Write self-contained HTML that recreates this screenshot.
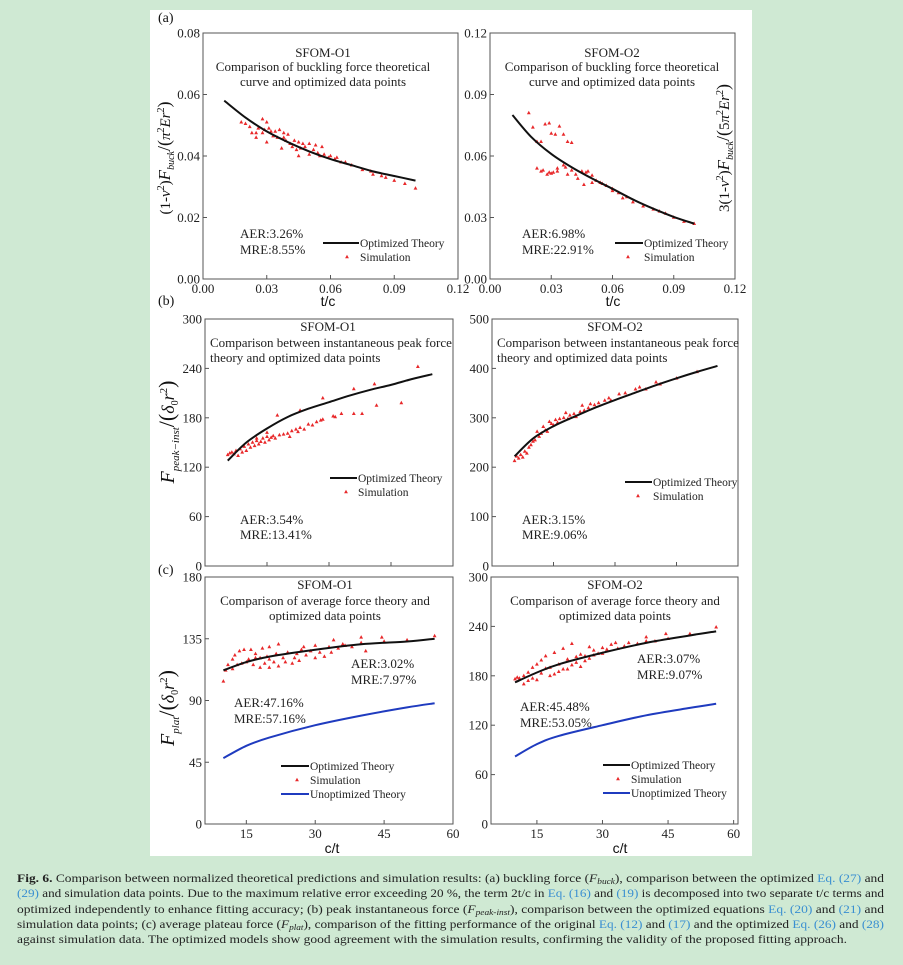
<!DOCTYPE html>
<html><head><meta charset="utf-8"><style>
html,body{margin:0;padding:0;background:#cfe9d3;}
svg{display:block;font-family:"Liberation Serif",serif;}
</style></head><body>
<svg id="fig" width="903" height="965" viewBox="0 0 903 965">
<rect x="0" y="0" width="903" height="965" fill="#cfe9d3"/>
<rect x="150" y="10" width="602" height="846" fill="#ffffff"/>
<g id="plots"></g>
<g font-size="14" fill="#111">
<text x="158" y="22">(a)</text>
<text x="158" y="305">(b)</text>
<text x="158" y="574">(c)</text>
</g>
<g font-family="Liberation Sans, sans-serif" font-size="14" fill="#111" text-anchor="middle">
<text x="328" y="306">t/c</text>
<text x="613" y="306">t/c</text>
<text x="332" y="853">c/t</text>
<text x="620" y="853">c/t</text>
</g>
<g font-size="15" fill="#111" text-anchor="middle">
<text transform="translate(170,158) rotate(-90)">(1-<tspan font-style="italic">ν</tspan><tspan dy="-6" font-size="10">2</tspan><tspan dy="6">)</tspan><tspan font-style="italic" font-size="17">F</tspan><tspan dy="4" font-size="10" font-style="italic">buck</tspan><tspan dy="-4" font-size="18">/(</tspan><tspan font-style="italic">π</tspan><tspan dy="-6" font-size="10">2</tspan><tspan dy="6" font-style="italic">Er</tspan><tspan dy="-6" font-size="10">2</tspan><tspan dy="6" font-size="18">)</tspan></text>
<text transform="translate(729,148) rotate(-90)">3(1-<tspan font-style="italic">ν</tspan><tspan dy="-6" font-size="10">2</tspan><tspan dy="6">)</tspan><tspan font-style="italic" font-size="17">F</tspan><tspan dy="4" font-size="10" font-style="italic">buck</tspan><tspan dy="-4" font-size="18">/(</tspan>5<tspan font-style="italic">π</tspan><tspan dy="-6" font-size="10">2</tspan><tspan dy="6" font-style="italic">Er</tspan><tspan dy="-6" font-size="10">2</tspan><tspan dy="6" font-size="18">)</tspan></text>
<text transform="translate(174,432) rotate(-90)"><tspan font-style="italic" font-size="20">F</tspan><tspan dy="5" font-size="11" font-style="italic">peak−inst</tspan><tspan dy="-5" font-size="22">/(</tspan><tspan font-style="italic" font-size="18">δ</tspan><tspan dy="4" font-size="10">0</tspan><tspan dy="-4" font-style="italic" font-size="18">r</tspan><tspan dy="-7" font-size="11">2</tspan><tspan dy="7" font-size="22">)</tspan></text>
<text transform="translate(174,708) rotate(-90)"><tspan font-style="italic" font-size="20">F</tspan><tspan dy="5" font-size="11" font-style="italic">plat</tspan><tspan dy="-5" font-size="22">/(</tspan><tspan font-style="italic" font-size="18">δ</tspan><tspan dy="4" font-size="10">0</tspan><tspan dy="-4" font-style="italic" font-size="18">r</tspan><tspan dy="-7" font-size="11">2</tspan><tspan dy="7" font-size="22">)</tspan></text>
</g>
<g font-size="11.5" fill="#222">
<text x="17" y="882" textLength="867" lengthAdjust="spacingAndGlyphs"><tspan font-weight="bold">Fig. 6.</tspan> Comparison between normalized theoretical predictions and simulation results: (a) buckling force (<tspan font-style="italic">F</tspan><tspan font-size="8" dy="2" font-style="italic">buck</tspan><tspan dy="-2">), comparison between the optimized </tspan><tspan fill="#3a8fd1">Eq. (27)</tspan> and</text>
<text x="17" y="897" textLength="867" lengthAdjust="spacingAndGlyphs"><tspan fill="#3a8fd1">(29)</tspan> and simulation data points. Due to the maximum relative error exceeding 20 %, the term 2t/c in <tspan fill="#3a8fd1">Eq. (16)</tspan> and <tspan fill="#3a8fd1">(19)</tspan> is decomposed into two separate t/c terms and</text>
<text x="17" y="913" textLength="867" lengthAdjust="spacingAndGlyphs">optimized independently to enhance fitting accuracy; (b) peak instantaneous force (<tspan font-style="italic">F</tspan><tspan font-size="8" dy="2" font-style="italic">peak-inst</tspan><tspan dy="-2">), comparison between the optimized equations </tspan><tspan fill="#3a8fd1">Eq. (20)</tspan> and <tspan fill="#3a8fd1">(21)</tspan> and</text>
<text x="17" y="928" textLength="867" lengthAdjust="spacingAndGlyphs">simulation data points; (c) average plateau force (<tspan font-style="italic">F</tspan><tspan font-size="8" dy="2" font-style="italic">plat</tspan><tspan dy="-2">), comparison of the fitting performance of the original </tspan><tspan fill="#3a8fd1">Eq. (12)</tspan> and <tspan fill="#3a8fd1">(17)</tspan> and the optimized <tspan fill="#3a8fd1">Eq. (26)</tspan> and <tspan fill="#3a8fd1">(28)</tspan></text>
<text x="17" y="943" textLength="830" lengthAdjust="spacingAndGlyphs">against simulation data. The optimized models show good agreement with the simulation results, confirming the validity of the proposed fitting approach.</text>
</g>
</svg>
<script>
// ---- Panel (a) left: SFOM-O1 buckling ----
const a1TheoryX = [0.01,0.02,0.03,0.04,0.05,0.06,0.07,0.08,0.09,0.10];
const a1TheoryY = [0.058,0.0525,0.048,0.0445,0.0415,0.039,0.037,0.035,0.0335,0.032];
const a1SimX = [0.018,0.02,0.022,0.023,0.025,0.025,0.026,0.028,0.028,0.029,0.030,0.030,0.031,0.032,0.033,0.034,0.035,0.036,0.037,0.038,0.038,0.039,0.040,0.041,0.042,0.043,0.044,0.045,0.045,0.046,0.047,0.048,0.050,0.050,0.052,0.053,0.054,0.055,0.056,0.057,0.059,0.060,0.062,0.063,0.065,0.067,0.070,0.075,0.079,0.080,0.084,0.086,0.090,0.095,0.100];
const a1SimY = [0.051,0.0505,0.0495,0.0475,0.0475,0.046,0.049,0.052,0.0475,0.0485,0.051,0.0445,0.049,0.048,0.0465,0.048,0.046,0.0485,0.0425,0.0475,0.046,0.045,0.047,0.044,0.043,0.045,0.042,0.0445,0.040,0.0425,0.044,0.043,0.044,0.0405,0.042,0.0435,0.041,0.040,0.043,0.0405,0.0395,0.040,0.039,0.0395,0.038,0.038,0.037,0.0355,0.035,0.034,0.0335,0.033,0.032,0.031,0.0295];
const a1TickX = [0,0.03,0.06,0.09,0.12];
const a1TickY = [0,0.02,0.04,0.06,0.08];
// ---- Panel (a) right: SFOM-O2 buckling ----
const a2TheoryX = [0.011,0.02,0.03,0.04,0.05,0.06,0.07,0.08,0.09,0.10];
const a2TheoryY = [0.080,0.0695,0.061,0.0545,0.049,0.044,0.0388,0.0343,0.0303,0.027];
const a2SimX = [0.019,0.021,0.023,0.025,0.027,0.029,0.030,0.032,0.034,0.036,0.038,0.040,0.023,0.025,0.026,0.028,0.029,0.030,0.031,0.033,0.033,0.036,0.037,0.038,0.040,0.042,0.043,0.045,0.046,0.047,0.048,0.050,0.050,0.052,0.054,0.055,0.057,0.060,0.060,0.063,0.065,0.067,0.070,0.075,0.080,0.083,0.086,0.090,0.095,0.100];
const a2SimY = [0.081,0.074,0.067,0.067,0.0755,0.076,0.071,0.0705,0.0745,0.0705,0.067,0.0665,0.054,0.0525,0.053,0.051,0.052,0.0515,0.052,0.054,0.0525,0.0555,0.0545,0.051,0.053,0.051,0.049,0.0525,0.046,0.052,0.0525,0.0505,0.047,0.048,0.047,0.0465,0.0455,0.044,0.043,0.042,0.0395,0.040,0.0375,0.0355,0.034,0.033,0.032,0.030,0.028,0.027];
const a2TickX = [0,0.03,0.06,0.09,0.12];
const a2TickY = [0,0.03,0.06,0.09,0.12];
// ---- Panel (b) left: SFOM-O1 peak force ----
const b1TheoryX = [0.011,0.02,0.03,0.04,0.05,0.06,0.07,0.08,0.09,0.10,0.11];
const b1TheoryY = [128,150,167,181,191,199,207,214,220,227,233];
const b1SimX = [0.011,0.012,0.013,0.014,0.015,0.016,0.017,0.018,0.019,0.020,0.021,0.022,0.023,0.024,0.025,0.026,0.027,0.028,0.029,0.030,0.031,0.032,0.033,0.034,0.036,0.038,0.040,0.041,0.042,0.044,0.045,0.046,0.048,0.050,0.052,0.054,0.056,0.057,0.062,0.063,0.066,0.072,0.076,0.035,0.046,0.057,0.072,0.082,0.083,0.095,0.103,0.030,0.025];
const b1SimY = [135,137,138,136,140,134,142,138,145,140,148,144,150,146,152,148,151,155,150,157,153,156,158,155,159,160,161,157,164,166,163,168,166,172,171,175,177,178,182,181,185,185,185,183,189,204,215,221,195,198,242,162,155];
const b1TickX = [0.03,0.06,0.09];
const b1TickY = [0,60,120,180,240,300];
// ---- Panel (b) right: SFOM-O2 peak force ----
const b2TheoryX = [0.011,0.02,0.03,0.04,0.05,0.06,0.07,0.08,0.09,0.10,0.11];
const b2TheoryY = [222,258,283,302,320,336,351,366,380,393,405];
const b2SimX = [0.011,0.012,0.013,0.014,0.015,0.016,0.017,0.018,0.019,0.020,0.021,0.022,0.023,0.024,0.025,0.026,0.027,0.028,0.029,0.030,0.031,0.032,0.033,0.035,0.036,0.037,0.038,0.040,0.041,0.043,0.044,0.045,0.047,0.048,0.050,0.052,0.055,0.057,0.058,0.062,0.065,0.070,0.072,0.075,0.080,0.082,0.090,0.100];
const b2SimY = [213,222,218,225,220,232,228,240,245,252,255,272,262,268,282,275,272,292,288,285,296,290,298,300,310,298,305,308,302,312,325,315,320,328,326,330,335,340,335,348,350,358,362,358,372,368,380,393];
const b2TickX = [0.03,0.06,0.09];
const b2TickY = [0,100,200,300,400,500];
// ---- Panel (c) left: SFOM-O1 plateau force ----
const c1TheoryX = [10,15,20,30,40,50,56];
const c1TheoryY = [112,118,122,127,131,133,135];
const c1UnoptX = [10,15,20,30,40,50,56];
const c1UnoptY = [48,57,63,72,79,85,88];
const c1SimX = [10,10.5,11,12,12,12.5,13,13.5,14,14.5,15,15.5,16,16.5,17,17,18,18,18.5,19,19.5,20,20,20,21,21.5,22,22,23,23.5,24,25,25.5,26,26.5,27,27.5,28,29,30,30,31,32,33,33.5,34,35,36,36.5,38,40,40,41,44.5,45,50,56];
const c1SimY = [104,112,116,113,120,123,116,126,117,127,118,120,127,116,121,124,114,121,128,117,122,114,120,129,118,124,115,131,121,118,125,117,121,124,119,127,129,123,126,121,130,125,122,129,125,134,128,131,130,129,136,132,126,136,133,134,137];
const c1TickX = [15,30,45,60];
const c1TickY = [0,45,90,135,180];
// ---- Panel (c) right: SFOM-O2 plateau force ----
const c2TheoryX = [10,15,20,30,40,50,56];
const c2TheoryY = [172,184,194,208,220,229,234];
const c2UnoptX = [10,15,20,30,40,50,56];
const c2UnoptY = [82,97,107,120,132,141,146];
const c2SimX = [10,10.5,11,12,12,13,13,14,14,15,15,16,16,17,17,18,18,19,19,20,20,21,21,22,22,23,23,24,24,25,25,26,26,27,27,28,28,29,30,30,31,32,33,33.5,35,36,38,40,40,42,44.5,45,50,56];
const c2SimY = [176,178,177,180,170,184,174,190,177,194,175,183,199,189,204,190,180,208,182,194,185,213,188,200,188,219,193,196,203,191,206,198,204,215,201,211,205,207,214,207,212,218,220,213,216,220,219,227,222,222,231,225,231,239];
const c2TickX = [15,30,45,60];
const c2TickY = [0,60,120,180,240,300];

const NS = 'http://www.w3.org/2000/svg';
const root = document.getElementById('plots');
function mk(tag, attrs, parent){
  const e = document.createElementNS(NS, tag);
  for (const k in attrs) e.setAttribute(k, attrs[k]);
  (parent || root).appendChild(e);
  return e;
}
function smoothPath(pts){
  let d = 'M' + pts[0][0] + ',' + pts[0][1];
  for (let i = 0; i < pts.length - 1; i++) {
    const p0 = pts[i-1] || pts[i], p1 = pts[i], p2 = pts[i+1], p3 = pts[i+2] || p2;
    const c1x = p1[0] + (p2[0]-p0[0])/6, c1y = p1[1] + (p2[1]-p0[1])/6;
    const c2x = p2[0] - (p3[0]-p1[0])/6, c2y = p2[1] - (p3[1]-p1[1])/6;
    d += ` C${c1x},${c1y} ${c2x},${c2y} ${p2[0]},${p2[1]}`;
  }
  return d;
}
function panel(p){
  const g = mk('g', {});
  
  
  const sx = v => p.x0 + (v - p.xd[0]) / (p.xd[1] - p.xd[0]) * (p.x1 - p.x0);
  const sy = v => p.y1 - (v - p.yd[0]) / (p.yd[1] - p.yd[0]) * (p.y1 - p.y0);
  const frame = mk('rect', {x:p.x0, y:p.y0, width:p.x1-p.x0, height:p.y1-p.y0, fill:'none', stroke:'#555', 'stroke-width':1}, g);
  
  
  p.tx.forEach(v => {
    const X = sx(v);
    const t = mk('line', {x1:X, x2:X, y1:p.y1, y2:p.y1-4, stroke:'#555'}, g);
    
    
    if (p.xl) {
      const lb = mk('text', {x:X, y:p.y1+14, 'text-anchor':'middle', 'font-size':13, fill:'#222'}, g);
      lb.textContent = p.fmt ? v.toFixed(2) : String(v);
      
      
    }
  });
  p.ty.forEach(v => {
    const Y = sy(v);
    const t = mk('line', {x1:p.x0, x2:p.x0+4, y1:Y, y2:Y, stroke:'#555'}, g);
    
    
    const lb = mk('text', {x:p.x0-3, y:Y+4.5, 'text-anchor':'end', 'font-size':13, fill:'#222'}, g);
    lb.textContent = p.fmt ? v.toFixed(2) : String(v);
    
    
  });
  p.sx.forEach((v, i) => {
    const X = sx(v), Y = sy(p.sy[i]);
    const m = mk('polygon', {points:`${X},${Y-2.2} ${X-1.9},${Y+1.3} ${X+1.9},${Y+1.3}`, fill:'#e8282a'}, g);
    
    
  });
  if (p.ux) {
    const u = mk('path', {d:smoothPath(p.ux.map((v,i)=>[sx(v), sy(p.uy[i])])), fill:'none', stroke:'#1f3bbf', 'stroke-width':2}, g);
    
    
  }
  const th = mk('path', {d:smoothPath(p.lx.map((v,i)=>[sx(v), sy(p.ly[i])])), fill:'none', stroke:'#111', 'stroke-width':2}, g);
  
  
  p.title.forEach(t => {
    const e = mk('text', {x:t[1], y:t[2], 'text-anchor':t[3]||'middle', 'font-size':13, fill:'#222'}, g);
    e.textContent = t[0];
    
    
  });
  p.notes.forEach(t => {
    const e = mk('text', {x:t[1], y:t[2], 'font-size':13, fill:'#222'}, g);
    e.textContent = t[0];
    
    
  });
  const L = p.leg;
  const lg = mk('g', {}, g);
  
  
  mk('line', {x1:L.x1, x2:L.x2, y1:L.y, y2:L.y, stroke:'#111', 'stroke-width':2}, lg);
  const t1 = mk('text', {x:L.x2+1, y:L.y+4, 'font-size':11.5, fill:'#222'}, lg);
  t1.textContent = 'Optimized Theory';
  
  
  const my = L.y + L.dy, mx = L.mx;
  mk('polygon', {points:`${mx},${my-2.2} ${mx-1.9},${my+1.3} ${mx+1.9},${my+1.3}`, fill:'#e8282a'}, lg);
  const t2 = mk('text', {x:L.x2+1, y:my+4, 'font-size':11.5, fill:'#222'}, lg);
  t2.textContent = 'Simulation';
  
  
  if (p.ux) {
    const uy = L.y + 2*L.dy;
    mk('line', {x1:L.x1, x2:L.x2, y1:uy, y2:uy, stroke:'#1f3bbf', 'stroke-width':2}, lg);
    const t3 = mk('text', {x:L.x2+1, y:uy+4, 'font-size':11.5, fill:'#222'}, lg);
    t3.textContent = 'Unoptimized Theory';
    
    
  }
}
panel({id:'a1', x0:203, x1:458, y0:33, y1:279, xd:[0,0.12], yd:[0,0.08], tx:a1TickX, ty:a1TickY, xl:true, fmt:true,
  sx:a1SimX, sy:a1SimY, lx:a1TheoryX, ly:a1TheoryY,
  title:[['SFOM-O1',323,57],['Comparison of buckling force theoretical',323,71],['curve and optimized data points',323,86]],
  notes:[['AER:3.26%',240,238],['MRE:8.55%',240,254]],
  leg:{x1:323, x2:359, y:243, dy:14, mx:347}});
panel({id:'a2', x0:490, x1:735, y0:33, y1:279, xd:[0,0.12], yd:[0,0.12], tx:a2TickX, ty:a2TickY, xl:true, fmt:true,
  sx:a2SimX, sy:a2SimY, lx:a2TheoryX, ly:a2TheoryY,
  title:[['SFOM-O2',612,57],['Comparison of buckling force theoretical',612,71],['curve and optimized data points',612,86]],
  notes:[['AER:6.98%',522,238],['MRE:22.91%',522,254]],
  leg:{x1:615, x2:643, y:243, dy:14, mx:628}});
panel({id:'b1', x0:205, x1:453, y0:319, y1:566, xd:[0,0.12], yd:[0,300], tx:b1TickX, ty:b1TickY, xl:false,
  sx:b1SimX, sy:b1SimY, lx:b1TheoryX, ly:b1TheoryY,
  title:[['SFOM-O1',328,331],['Comparison between instantaneous peak force',210,347,'start'],['theory and optimized data points',210,362,'start']],
  notes:[['AER:3.54%',240,524],['MRE:13.41%',240,539]],
  leg:{x1:330, x2:357, y:478, dy:14, mx:346}});
panel({id:'b2', x0:492, x1:738, y0:319, y1:566, xd:[0,0.12], yd:[0,500], tx:b2TickX, ty:b2TickY, xl:false,
  sx:b2SimX, sy:b2SimY, lx:b2TheoryX, ly:b2TheoryY,
  title:[['SFOM-O2',615,331],['Comparison between instantaneous peak force',497,347,'start'],['theory and optimized data points',497,362,'start']],
  notes:[['AER:3.15%',522,524],['MRE:9.06%',522,539]],
  leg:{x1:625, x2:652, y:482, dy:14, mx:638}});
panel({id:'c1', x0:205, x1:453, y0:577, y1:824, xd:[6,60], yd:[0,180], tx:c1TickX, ty:c1TickY, xl:true,
  sx:c1SimX, sy:c1SimY, lx:c1TheoryX, ly:c1TheoryY, ux:c1UnoptX, uy:c1UnoptY,
  title:[['SFOM-O1',325,589],['Comparison of average force theory and',325,605],['optimized data points',325,620]],
  notes:[['AER:3.02%',351,668],['MRE:7.97%',351,684],['AER:47.16%',234,707],['MRE:57.16%',234,723]],
  leg:{x1:281, x2:309, y:766, dy:14, mx:297}});
panel({id:'c2', x0:491, x1:738, y0:577, y1:824, xd:[4.5,61], yd:[0,300], tx:c2TickX, ty:c2TickY, xl:true,
  sx:c2SimX, sy:c2SimY, lx:c2TheoryX, ly:c2TheoryY, ux:c2UnoptX, uy:c2UnoptY,
  title:[['SFOM-O2',615,589],['Comparison of average force theory and',615,605],['optimized data points',615,620]],
  notes:[['AER:3.07%',637,663],['MRE:9.07%',637,679],['AER:45.48%',520,711],['MRE:53.05%',520,727]],
  leg:{x1:603, x2:630, y:765, dy:14, mx:618}});
</script>
</body></html>
